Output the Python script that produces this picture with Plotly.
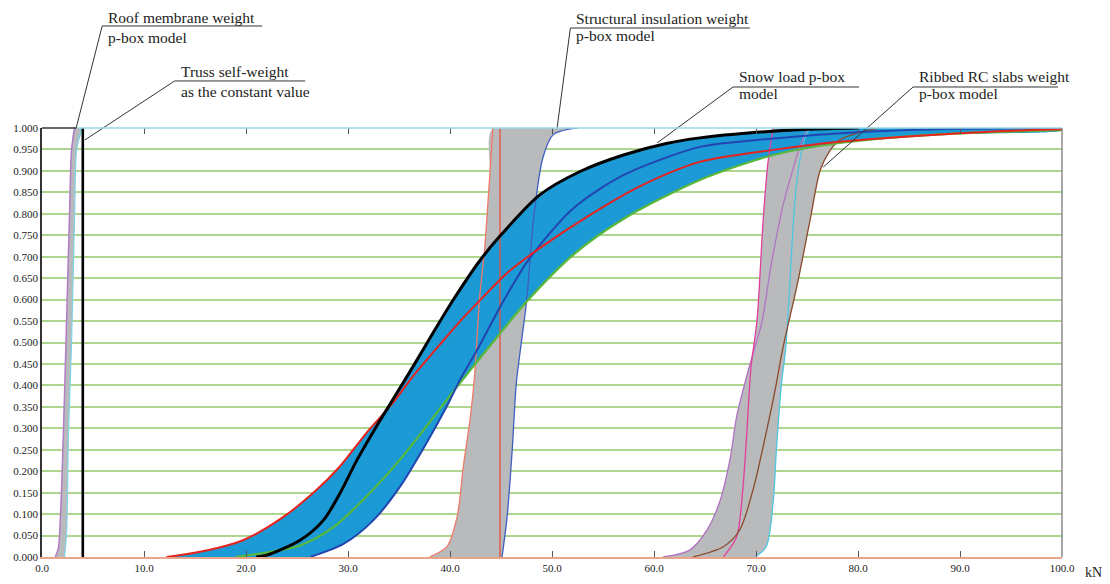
import itertools
import plotly.graph_objects as go

# ---------------- data (x in kN, p = cumulative probability) ----------------
# Snow load p-box
snow_black_x = [21.0, 22.0, 25.3, 27.6, 29.2, 30.9, 32.8, 34.4, 36.4, 38.4, 40.2, 42.9, 44.9, 48.8, 52.7, 57.0, 61.2, 64.5, 70.1, 75.0, 80.0]
snow_black_p = [0.0, 0.004, 0.039, 0.086, 0.148, 0.227, 0.305, 0.367, 0.445, 0.525, 0.595, 0.69, 0.748, 0.844, 0.898, 0.937, 0.964, 0.977, 0.990, 0.997, 1.0]

snow_red_x = [12.2, 15.5, 19.7, 23.7, 26.9, 29.2, 31.8, 34.4, 36.4, 39.0, 41.0, 42.6, 45.6, 48.8, 53.7, 58.6, 64.5, 71.7, 78.2, 88.0, 96.5, 100.0]
snow_red_p = [0.0, 0.012, 0.039, 0.094, 0.156, 0.211, 0.289, 0.359, 0.422, 0.495, 0.55, 0.59, 0.662, 0.720, 0.797, 0.864, 0.921, 0.949, 0.968, 0.985, 0.995, 0.997]

snow_green_x = [19.0, 25.3, 28.6, 31.8, 35.1, 37.7, 39.7, 41.0, 43.6, 47.5, 52.1, 57.0, 64.5, 71.7, 78.2, 88.0, 100.0]
snow_green_p = [0.0, 0.027, 0.07, 0.141, 0.227, 0.305, 0.367, 0.406, 0.483, 0.595, 0.705, 0.788, 0.879, 0.937, 0.965, 0.985, 0.995]

snow_blue_x = [26.3, 29.6, 32.5, 35.1, 37.7, 39.7, 41.0, 42.6, 45.2, 47.8, 52.1, 57.0, 64.5, 70.1, 79.9, 90.0, 100.0]
snow_blue_p = [0.0, 0.031, 0.086, 0.164, 0.266, 0.352, 0.414, 0.48, 0.595, 0.696, 0.813, 0.890, 0.956, 0.972, 0.990, 0.998, 1.0]

# Structural insulation weight p-box
ins_left_x = [38.0, 39.7, 40.7, 41.3, 42.0, 42.4, 42.9, 43.4, 43.9, 44.2]
ins_left_p = [0.0, 0.024, 0.094, 0.21, 0.327, 0.42, 0.603, 0.720, 0.890, 1.0]
ins_mid_x = [44.9, 44.9]
ins_mid_p = [0.0, 1.0]
ins_right_x = [45.1, 45.6, 46.1, 46.5, 46.9, 47.5, 48.2, 49.1, 50.1, 51.8, 52.5]
ins_right_p = [0.0, 0.094, 0.25, 0.405, 0.483, 0.595, 0.79, 0.93, 0.984, 0.998, 1.0]

# Ribbed RC slabs weight p-box
rib_purple_x = [60.9, 63.5, 65.2, 66.5, 67.5, 68.1, 69.3, 70.6, 71.4, 72.7, 73.6, 74.3, 75.0, 75.3]
rib_purple_p = [0.0, 0.016, 0.063, 0.133, 0.234, 0.327, 0.44, 0.55, 0.669, 0.825, 0.902, 0.956, 0.995, 1.0]
rib_pink_x = [66.8, 68.1, 68.7, 69.1, 69.5, 70.1, 70.7, 71.2, 71.7]
rib_pink_p = [0.0, 0.047, 0.156, 0.29, 0.44, 0.552, 0.785, 0.925, 1.0]
rib_brown_x = [63.8, 66.8, 68.4, 69.7, 71.0, 72.0, 72.6, 74.0, 75.3, 76.3, 77.3, 78.2, 79.9, 82.0]
rib_brown_p = [0.0, 0.024, 0.063, 0.156, 0.29, 0.405, 0.483, 0.63, 0.785, 0.902, 0.949, 0.972, 0.988, 1.0]
rib_cyan_x = [69.9, 71.0, 71.7, 72.0, 72.5, 72.9, 73.3, 73.8, 74.3, 75.0, 75.5]
rib_cyan_p = [0.0, 0.024, 0.133, 0.25, 0.405, 0.483, 0.63, 0.825, 0.925, 0.988, 1.0]

# Roof membrane weight p-box
roof_left_x = [1.3, 1.6, 1.8, 2.1, 2.35, 2.7, 2.9, 3.2]
roof_left_p = [0.0, 0.02, 0.09, 0.29, 0.5, 0.8, 0.95, 1.0]
roof_right_x = [2.2, 2.4, 2.6, 2.9, 3.2, 3.4, 3.9]
roof_right_p = [0.0, 0.05, 0.29, 0.5, 0.8, 0.95, 1.0]

# Truss self-weight (constant)
truss_x = [4.0, 4.0]
truss_p = [0.0, 1.0]

x_ticks = [0, 10, 20, 30, 40, 50, 60, 70, 80, 90, 100]
y_ticks = [round(0.05 * i, 2) for i in range(21)]

# ---------------- styles ----------------
SERIF = "Liberation Serif, Times New Roman, serif"
GREY_FILL = "#B8BABC"
SNOW_FILL = "#1B9AD6"
SMOOTH = 0.8

fig = go.Figure()


def add_band(curves, color):
    # union of the regions between every pair of bounding curves = the p-box envelope
    for (xa, pa), (xb, pb) in itertools.combinations(curves, 2):
        fig.add_trace(go.Scatter(x=list(xa) + list(xb)[::-1], y=list(pa) + list(pb)[::-1],
                                 mode="lines", fill="toself", fillcolor=color,
                                 line=dict(width=0, shape="spline", smoothing=SMOOTH),
                                 hoverinfo="skip"))


add_band([(roof_left_x, roof_left_p), (roof_right_x, roof_right_p)], GREY_FILL)
add_band([(ins_left_x, ins_left_p), (ins_right_x, ins_right_p)], GREY_FILL)
add_band([(rib_purple_x, rib_purple_p), (rib_pink_x, rib_pink_p),
          (rib_brown_x, rib_brown_p), (rib_cyan_x, rib_cyan_p)], GREY_FILL)
add_band([(snow_black_x, snow_black_p), (snow_red_x, snow_red_p),
          (snow_green_x, snow_green_p), (snow_blue_x, snow_blue_p)], SNOW_FILL)

lines = [
    (roof_left_x, roof_left_p, "#B27CC6", 1.5),
    (roof_right_x, roof_right_p, "#7FD3E6", 1.2),
    (ins_left_x, ins_left_p, "#F07A66", 1.3),
    (ins_mid_x, ins_mid_p, "#E8503E", 1.3),
    (ins_right_x, ins_right_p, "#3F5FC0", 1.3),
    (rib_purple_x, rib_purple_p, "#B173C4", 1.3),
    (rib_pink_x, rib_pink_p, "#E2409B", 1.3),
    (rib_cyan_x, rib_cyan_p, "#4FC6E0", 1.3),
    (rib_brown_x, rib_brown_p, "#8B4A2B", 1.3),
    (snow_green_x, snow_green_p, "#58B83A", 2.2),
    (snow_blue_x, snow_blue_p, "#2345B0", 2.0),
    (snow_red_x, snow_red_p, "#E8231E", 2.0),
    (snow_black_x, snow_black_p, "#000000", 3.0),
    (truss_x, truss_p, "#000000", 2.6),
]
for x, p, c, w in lines:
    fig.add_trace(go.Scatter(x=x, y=p, mode="lines",
                             line=dict(color=c, width=w, shape="spline", smoothing=SMOOTH),
                             hoverinfo="skip"))

# invisible trace to activate the mirrored top tick axis
fig.add_trace(go.Scatter(x=[0], y=[0], xaxis="x2", mode="lines", line=dict(width=0),
                         hoverinfo="skip"))

# ---------------- annotations with leader lines ----------------
# (x in data units, y in paper units; y axis range is [0,1] so paper == data in y)
labels = [
    # line1, line2, text_x, y1, y2, underline x0, x1, underline y, leader end x, end y
    ("Roof membrane weight", "p-box model", 6.3, 1.2587, 1.212, 5.9, 21.6, 1.2378, 3.35, 1.0),
    ("Truss self-weight", "as the constant value", 13.4, 1.1328, 1.0862, 13.0, 25.8, 1.1096, 4.2, 0.972),
    ("Structural insulation weight", "p-box model", 52.2, 1.2564, 1.2145, 51.8, 69.4, 1.2331, 50.5, 1.0),
    ("Snow load p-box", "model", 68.1, 1.1212, 1.0793, 67.75, 80.1, 1.0956, 60.3, 0.965),
    ("Ribbed RC slabs weight", "p-box model", 85.8, 1.1212, 1.0793, 85.4, 99.6, 1.0956, 76.6, 0.909),
]
for t1, t2, tx, y1, y2, ux0, ux1, uy, ex, ey in labels:
    for t, yy in ((t1, y1), (t2, y2)):
        fig.add_annotation(x=tx, y=yy, xref="x", yref="paper", text=t, showarrow=False,
                           xanchor="left", yanchor="middle",
                           font=dict(family=SERIF, size=15.5, color="#222"))
    fig.add_shape(type="line", xref="x", yref="paper", x0=ux0, x1=ux1, y0=uy, y1=uy,
                  line=dict(color="#333", width=1))
    fig.add_shape(type="line", xref="x", yref="paper", x0=ux0, x1=ex, y0=uy, y1=ey,
                  line=dict(color="#333", width=1))

# darker grid line at 0.850
fig.add_shape(type="line", xref="paper", yref="y", x0=0, x1=1, y0=0.85, y1=0.85,
              line=dict(color="#4FAE45", width=1.5), layer="below")
# frame: top (dark at far left, light cyan elsewhere) and right (grey)
fig.add_shape(type="line", xref="paper", yref="paper", x0=0, x1=0.034, y0=1, y1=1,
              line=dict(color="#333", width=1.5))
fig.add_shape(type="line", xref="paper", yref="paper", x0=0.034, x1=1, y0=1, y1=1,
              line=dict(color="#9AD8EA", width=1.5))
fig.add_shape(type="line", xref="paper", yref="paper", x0=1, x1=1, y0=0, y1=1,
              line=dict(color="#8A8A8A", width=1.5))

fig.add_annotation(x=1.031, y=-0.036, xref="paper", yref="paper", text="kN", showarrow=False,
                   xanchor="center", yanchor="middle", font=dict(family=SERIF, size=14, color="#222"))

# page body has an 8px default margin; size/margins compensate so the plot sits where the reference has it
fig.update_layout(
    width=1102, height=576,
    margin=dict(l=34, r=48, t=120, b=27),
    paper_bgcolor="white", plot_bgcolor="white",
    showlegend=False,
    font=dict(family=SERIF, size=11, color="#222"),
    xaxis=dict(range=[0, 100], tickvals=x_ticks, tickformat=".1f",
               ticks="inside", ticklen=6, tickcolor="#555", tickwidth=1,
               showline=True, linecolor="#E8A58C", linewidth=1.5,
               showgrid=False, zeroline=False, automargin=False,
               tickfont=dict(family=SERIF, size=11, color="#222")),
    xaxis2=dict(range=[0, 100], overlaying="x", side="top", tickvals=x_ticks,
                ticks="inside", ticklen=6, tickcolor="#555", tickwidth=1,
                showticklabels=False, showline=False, showgrid=False, zeroline=False),
    yaxis=dict(range=[0, 1], tickvals=y_ticks, tickformat=".3f",
               ticks="", showline=True, linecolor="#333", linewidth=1.5,
               showgrid=True, gridcolor="#AED68F", gridwidth=1.5, zeroline=False,
               automargin=False,
               tickfont=dict(family=SERIF, size=11, color="#222")),
)

fig.write_html("out.html")
